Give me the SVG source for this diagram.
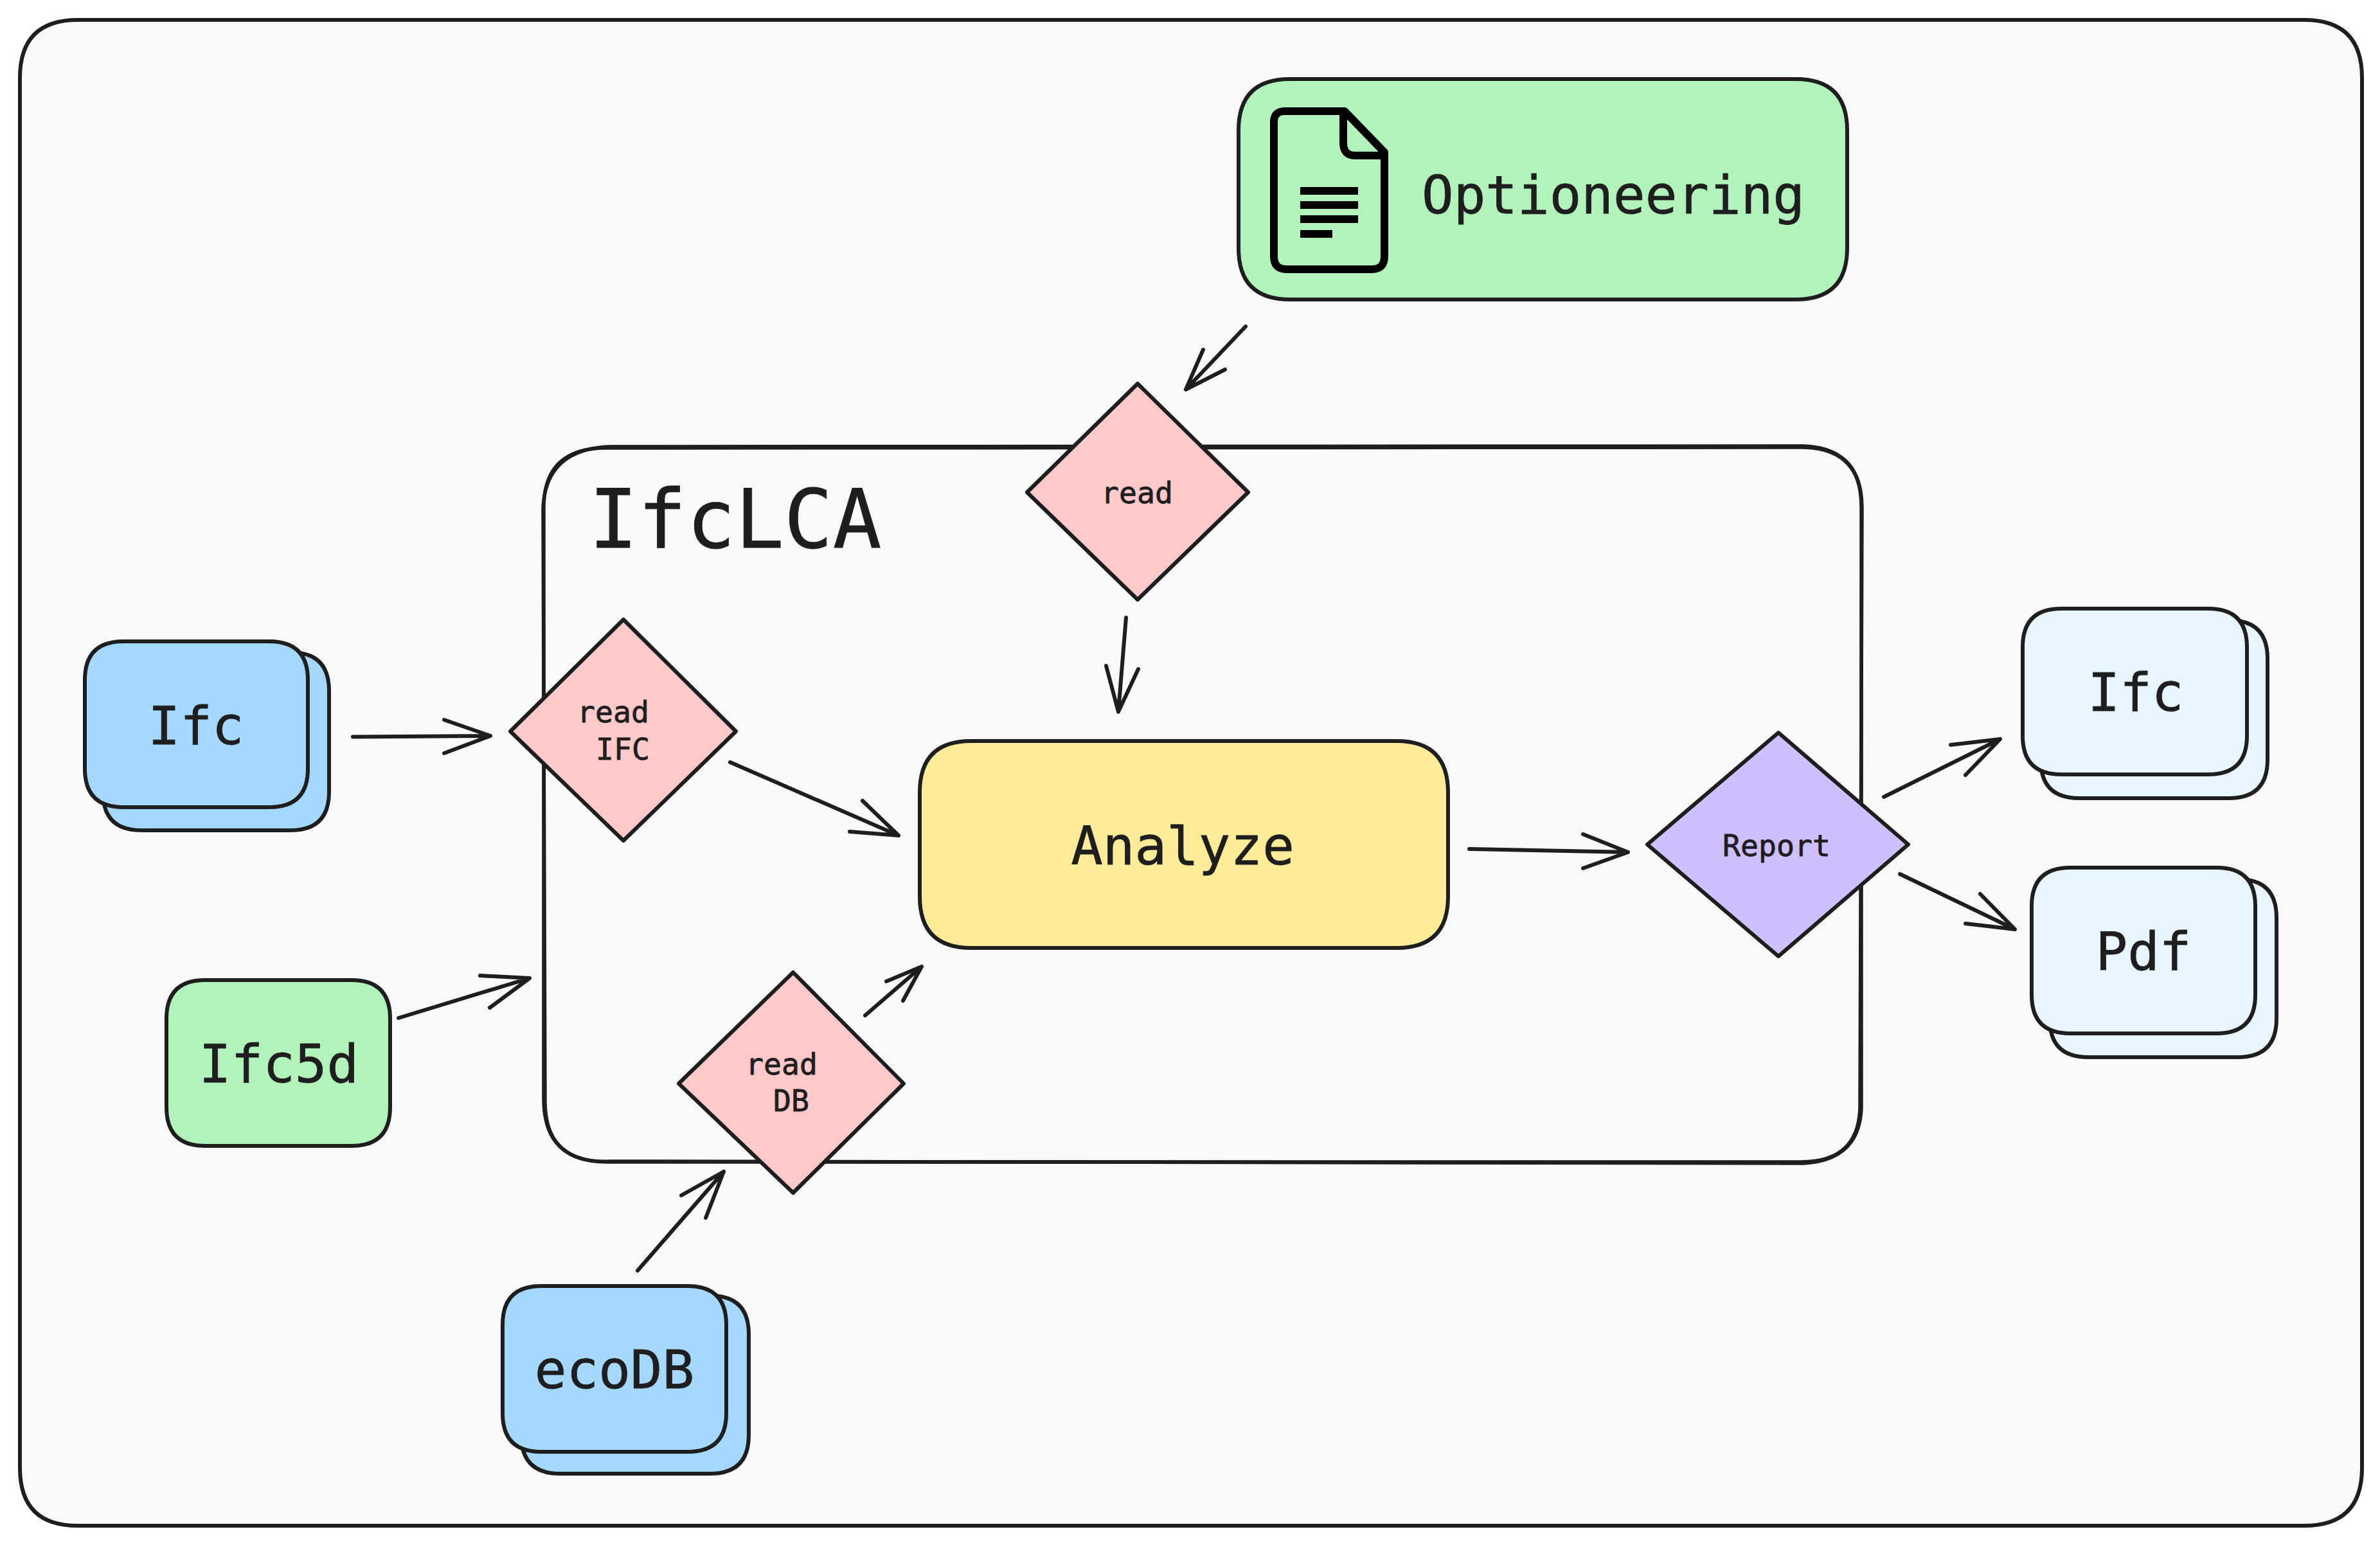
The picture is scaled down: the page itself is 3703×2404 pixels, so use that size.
<svg xmlns="http://www.w3.org/2000/svg" width="3703" height="2404" viewBox="0 0 3703 2404">
<style>
.s{stroke:#1e1e1e;stroke-width:6;stroke-linejoin:round;stroke-linecap:round}
.blue{fill:#a5d8ff}.green{fill:#b2f2bb}.pink{fill:#ffc9c9}.purple{fill:#d0bfff}.yellow{fill:#ffec99}.pale{fill:#e7f5ff}
.line{fill:none}
.f{stroke-width:5.500}
text{font-family:"DejaVu Sans Mono","Liberation Mono",monospace;fill:#1e1e1e;stroke:#1e1e1e;stroke-width:.8;text-anchor:middle}
.l{font-size:82.500px}.m{font-size:46.500px}.xl{font-size:126px}
.doc{fill:none;stroke:#000;stroke-width:12;stroke-linejoin:round}
.bar{fill:none;stroke:#000;stroke-width:12}
</style>
<rect width="3703" height="2404" fill="#fff"/>
<g id="background"><path class="s" fill="#f8f9fa" d="M121 31H3585Q3675 31 3675 121V2284Q3675 2374 3585 2374H121Q31 2374 31 2284V121Q31 31 121 31Z"/></g>
<g id="frame-IfcLCA">
<path class="s line f" d="M945 697L2802 696Q2897 696 2897 790L2894 1715Q2896 1808 2802 1808L945 1808Q847 1808 846 1712L846 790Q846 696 945 697Z"/>
<path class="s line f" d="M950 695L2805 694Q2898 697 2896 792L2896 1725Q2892 1806 2805 1810L950 1807Q849 1812 848 1715L845 792Q848 698 950 695Z"/>
<text class="xl" x="1144" y="852">IfcLCA</text>
</g>
<g id="connectors" class="s line">
<path d="M549 1146.500L763 1145M691 1120L763 1145L691 1172"/>
<path d="M620 1584L824 1522M747 1518L824 1522L762 1568"/>
<path d="M1938 508L1845 606M1872 544L1845 606L1906 575"/>
<path d="M1752 961L1740 1107.500M1721 1036L1740 1107.500L1771 1041"/>
<path d="M1136 1186L1398 1300M1322 1294L1398 1300L1342 1246"/>
<path d="M1346 1580L1434 1504M1379 1527L1434 1504L1405 1557"/>
<path d="M992 1977L1126 1823M1060 1860L1126 1823L1098 1895"/>
<path d="M2286 1321L2533 1326M2463 1298L2533 1326L2463 1351"/>
<path d="M2931 1240L3112 1150M3035 1159L3112 1150L3058 1206"/>
<path d="M2956 1360L3135 1446M3058 1437L3135 1446L3081 1391"/>
</g>
<g id="node-optioneering">
<path class="s green" d="M2007 123H2794Q2874 123 2874 203V386Q2874 466 2794 466H2007Q1927 466 1927 386V203Q1927 123 2007 123Z"/>
<path class="doc" d="M1999 173H2092L2154 237V399Q2154 419 2134 419H2002Q1982 419 1982 399V190Q1982 173 1999 173ZM2090 173V222Q2090 242 2108 242H2154"/>
<path class="bar" d="M2023 297H2113M2023 319H2113M2023 341H2113M2023 364H2073"/>
<text class="l" x="2510" y="332">Optioneering</text>
</g>
<g id="node-read">
<path class="s pink" d="M1770 597L1942 766L1770 933L1598 766Z"/>
<text class="m" x="1769" y="783">read</text>
</g>
<g id="node-ifc-input">
<path class="s blue" d="M220 1015H452Q512 1015 512 1075V1232Q512 1292 452 1292H220Q160 1292 160 1232V1075Q160 1015 220 1015Z"/>
<path class="s blue" d="M192 998H419Q479 998 479 1058V1196Q479 1256 419 1256H192Q132 1256 132 1196V1058Q132 998 192 998Z"/>
<text class="l" x="305" y="1158">Ifc</text>
</g>
<g id="node-read-ifc">
<path class="s pink" d="M970 964L1145 1138L970 1308L794 1138Z"/>
<text class="m" x="954" y="1124">read</text>
<text class="m" x="969" y="1182">IFC</text>
</g>
<g id="node-ifc5d">
<path class="s green" d="M319 1525H547Q607 1525 607 1585V1723Q607 1783 547 1783H319Q259 1783 259 1723V1585Q259 1525 319 1525Z"/>
<text class="l" x="434" y="1684">Ifc5d</text>
</g>
<g id="node-read-db">
<path class="s pink" d="M1234 1513L1406 1686L1234 1856L1056 1686Z"/>
<text class="m" x="1216" y="1672">read</text>
<text class="m" x="1231" y="1729">DB</text>
</g>
<g id="node-ecodb">
<path class="s blue" d="M871 2016H1105Q1165 2016 1165 2076V2233Q1165 2293 1105 2293H871Q811 2293 811 2233V2076Q811 2016 871 2016Z"/>
<path class="s blue" d="M842 2001H1070Q1130 2001 1130 2061V2199Q1130 2259 1070 2259H842Q782 2259 782 2199V2061Q782 2001 842 2001Z"/>
<text class="l" x="956" y="2160">ecoDB</text>
</g>
<g id="node-analyze">
<path class="s yellow" d="M1511 1153H2173Q2253 1153 2253 1233V1395Q2253 1475 2173 1475H1511Q1431 1475 1431 1395V1233Q1431 1153 1511 1153Z"/>
<text class="l" x="1840" y="1345">Analyze</text>
</g>
<g id="node-report">
<path class="s purple" d="M2767 1140L2969 1314L2767 1488L2563 1314Z"/>
<text class="m" x="2764" y="1332">Report</text>
</g>
<g id="node-ifc-output">
<path class="s pale" d="M3235 965H3468Q3528 965 3528 1025V1182Q3528 1242 3468 1242H3235Q3175 1242 3175 1182V1025Q3175 965 3235 965Z"/>
<path class="s pale" d="M3207 947H3436Q3496 947 3496 1007V1145Q3496 1205 3436 1205H3207Q3147 1205 3147 1145V1007Q3147 947 3207 947Z"/>
<text class="l" x="3323" y="1106">Ifc</text>
</g>
<g id="node-pdf-output">
<path class="s pale" d="M3249 1368H3482Q3542 1368 3542 1428V1585Q3542 1645 3482 1645H3249Q3189 1645 3189 1585V1428Q3189 1368 3249 1368Z"/>
<path class="s pale" d="M3221 1350H3449Q3509 1350 3509 1410V1548Q3509 1608 3449 1608H3221Q3161 1608 3161 1548V1410Q3161 1350 3221 1350Z"/>
<text class="l" x="3335" y="1509">Pdf</text>
</g>
</svg>
